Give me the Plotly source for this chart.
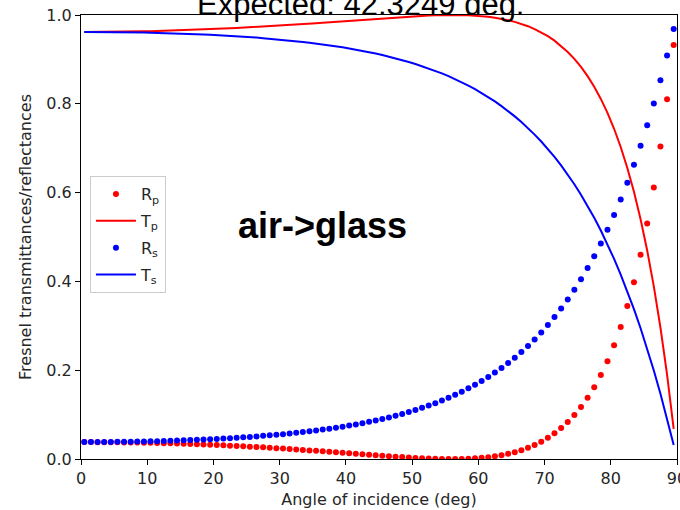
import plotly.graph_objects as go

# Angles of incidence (deg)
angles = [0.5, 1.5, 2.5, 3.5, 4.5, 5.5, 6.5, 7.5, 8.5, 9.5,
          10.5, 11.5, 12.5, 13.5, 14.5, 15.5, 16.5, 17.5, 18.5, 19.5,
          20.5, 21.5, 22.5, 23.5, 24.5, 25.5, 26.5, 27.5, 28.5, 29.5,
          30.5, 31.5, 32.5, 33.5, 34.5, 35.5, 36.5, 37.5, 38.5, 39.5,
          40.5, 41.5, 42.5, 43.5, 44.5, 45.5, 46.5, 47.5, 48.5, 49.5,
          50.5, 51.5, 52.5, 53.5, 54.5, 55.5, 56.5, 57.5, 58.5, 59.5,
          60.5, 61.5, 62.5, 63.5, 64.5, 65.5, 66.5, 67.5, 68.5, 69.5,
          70.5, 71.5, 72.5, 73.5, 74.5, 75.5, 76.5, 77.5, 78.5, 79.5,
          80.5, 81.5, 82.5, 83.5, 84.5, 85.5, 86.5, 87.5, 88.5, 89.5]

R_p = [0.0381, 0.0381, 0.0380, 0.0379, 0.0378, 0.0376, 0.0374, 0.0372, 0.0370, 0.0367,
       0.0364, 0.0360, 0.0356, 0.0352, 0.0348, 0.0343, 0.0338, 0.0333, 0.0327, 0.0321,
       0.0315, 0.0308, 0.0301, 0.0294, 0.0286, 0.0278, 0.0270, 0.0262, 0.0253, 0.0244,
       0.0234, 0.0225, 0.0215, 0.0205, 0.0194, 0.0184, 0.0173, 0.0162, 0.0151, 0.0140,
       0.0129, 0.0117, 0.0106, 0.0095, 0.0084, 0.0073, 0.0062, 0.0052, 0.0043, 0.0034,
       0.0025, 0.0018, 0.0011, 0.0006, 0.0002, 0.0000, 0.0000, 0.0002, 0.0007, 0.0015,
       0.0026, 0.0041, 0.0061, 0.0086, 0.0117, 0.0154, 0.0199, 0.0252, 0.0316, 0.0390,
       0.0477, 0.0578, 0.0696, 0.0832, 0.0989, 0.1169, 0.1377, 0.1616, 0.1890, 0.2203,
       0.2562, 0.2973, 0.3444, 0.3983, 0.4599, 0.5304, 0.6113, 0.7039, 0.8102, 0.9323]

T_p = [0.9619, 0.9619, 0.9620, 0.9621, 0.9622, 0.9624, 0.9626, 0.9628, 0.9630, 0.9633,
       0.9636, 0.9640, 0.9644, 0.9648, 0.9652, 0.9657, 0.9662, 0.9667, 0.9673, 0.9679,
       0.9685, 0.9692, 0.9699, 0.9706, 0.9714, 0.9722, 0.9730, 0.9738, 0.9747, 0.9756,
       0.9766, 0.9775, 0.9785, 0.9795, 0.9806, 0.9816, 0.9827, 0.9838, 0.9849, 0.9860,
       0.9871, 0.9883, 0.9894, 0.9905, 0.9916, 0.9927, 0.9938, 0.9948, 0.9957, 0.9966,
       0.9975, 0.9982, 0.9989, 0.9994, 0.9998, 1.0000, 1.0000, 0.9998, 0.9993, 0.9985,
       0.9974, 0.9959, 0.9939, 0.9914, 0.9883, 0.9846, 0.9801, 0.9748, 0.9684, 0.9610,
       0.9523, 0.9422, 0.9304, 0.9168, 0.9011, 0.8831, 0.8623, 0.8384, 0.8110, 0.7797,
       0.7438, 0.7027, 0.6556, 0.6017, 0.5401, 0.4696, 0.3887, 0.2961, 0.1898, 0.0677]

R_s = [0.0381, 0.0381, 0.0382, 0.0383, 0.0384, 0.0386, 0.0388, 0.0390, 0.0393, 0.0395,
       0.0399, 0.0402, 0.0406, 0.0411, 0.0415, 0.0420, 0.0426, 0.0432, 0.0439, 0.0446,
       0.0453, 0.0461, 0.0469, 0.0478, 0.0488, 0.0498, 0.0509, 0.0521, 0.0533, 0.0546,
       0.0560, 0.0574, 0.0590, 0.0606, 0.0624, 0.0642, 0.0662, 0.0683, 0.0705, 0.0728,
       0.0753, 0.0779, 0.0807, 0.0837, 0.0868, 0.0902, 0.0937, 0.0975, 0.1015, 0.1058,
       0.1103, 0.1152, 0.1203, 0.1258, 0.1316, 0.1378, 0.1445, 0.1515, 0.1591, 0.1671,
       0.1757, 0.1849, 0.1947, 0.2052, 0.2163, 0.2283, 0.2411, 0.2547, 0.2694, 0.2850,
       0.3017, 0.3196, 0.3388, 0.3593, 0.3812, 0.4047, 0.4299, 0.4568, 0.4855, 0.5163,
       0.5493, 0.5845, 0.6222, 0.6625, 0.7055, 0.7515, 0.8007, 0.8531, 0.9090, 0.9687]

T_s = [0.9619, 0.9619, 0.9618, 0.9617, 0.9616, 0.9614, 0.9612, 0.9610, 0.9607, 0.9605,
       0.9601, 0.9598, 0.9594, 0.9589, 0.9585, 0.9580, 0.9574, 0.9568, 0.9561, 0.9554,
       0.9547, 0.9539, 0.9531, 0.9522, 0.9512, 0.9502, 0.9491, 0.9479, 0.9467, 0.9454,
       0.9440, 0.9426, 0.9410, 0.9394, 0.9376, 0.9358, 0.9338, 0.9317, 0.9295, 0.9272,
       0.9247, 0.9221, 0.9193, 0.9163, 0.9132, 0.9098, 0.9063, 0.9025, 0.8985, 0.8942,
       0.8897, 0.8848, 0.8797, 0.8742, 0.8684, 0.8622, 0.8555, 0.8485, 0.8409, 0.8329,
       0.8243, 0.8151, 0.8053, 0.7948, 0.7837, 0.7717, 0.7589, 0.7453, 0.7306, 0.7150,
       0.6983, 0.6804, 0.6612, 0.6407, 0.6188, 0.5953, 0.5701, 0.5432, 0.5145, 0.4837,
       0.4507, 0.4155, 0.3778, 0.3375, 0.2945, 0.2485, 0.1993, 0.1469, 0.0910, 0.0313]

x_ticks = [0, 10, 20, 30, 40, 50, 60, 70, 80, 90]
y_ticks = [0.0, 0.2, 0.4, 0.6, 0.8, 1.0]
y_tick_labels = ["0.0", "0.2", "0.4", "0.6", "0.8", "1.0"]

title_text = "Expected: 42.3249 deg."
inset_text = "air-&gt;glass"

RED = "#ff0000"
BLUE = "#0000ff"
TICKFONT = dict(family="DejaVu Sans", size=16, color="#262626")

fig = go.Figure()
fig.add_trace(go.Scatter(x=angles, y=R_p, mode="markers", name="R<sub>p</sub>",
                         legendgroup="a", marker=dict(color=RED, size=6)))
fig.add_trace(go.Scatter(x=angles, y=T_p, mode="lines", name="T<sub>p</sub>",
                         legendgroup="b", line=dict(color=RED, width=2)))
fig.add_trace(go.Scatter(x=angles, y=R_s, mode="markers", name="R<sub>s</sub>",
                         legendgroup="c", marker=dict(color=BLUE, size=6)))
fig.add_trace(go.Scatter(x=angles, y=T_s, mode="lines", name="T<sub>s</sub>",
                         legendgroup="d", line=dict(color=BLUE, width=2)))

axis_common = dict(showline=True, linecolor="black", linewidth=1, mirror=True,
                   ticks="outside", ticklen=5, tickcolor="black", tickwidth=1,
                   showgrid=False, zeroline=False, tickfont=TICKFONT)

fig.update_xaxes(range=[0, 90], tickvals=x_ticks, ticklabeloverflow="allow",
                 title=dict(text="Angle of incidence (deg)",
                            font=dict(family="DejaVu Sans", size=16, color="#262626"),
                            standoff=6),
                 **axis_common)
fig.update_yaxes(range=[0, 1], tickvals=y_ticks, ticktext=y_tick_labels,
                 title=dict(text="Fresnel transmittances/reflectances",
                            font=dict(family="DejaVu Sans", size=16, color="#262626"),
                            standoff=10),
                 **axis_common)

fig.add_annotation(text=title_text, xref="paper", yref="paper",
                   x=(360 - 81) / 596, y=1.023, xanchor="center", yanchor="middle",
                   showarrow=False,
                   font=dict(family="Liberation Sans", size=31, color="black"))
fig.add_annotation(text="<b>" + inset_text + "</b>", x=36.4, y=0.525,
                   xanchor="center", yanchor="middle", showarrow=False,
                   font=dict(family="Liberation Sans", size=36, color="black"))

fig.update_layout(
    width=680, height=510,
    margin=dict(l=81, r=3, t=15, b=51, autoexpand=False),
    plot_bgcolor="white", paper_bgcolor="white",
    showlegend=True,
    legend=dict(x=0.015, y=0.637, xanchor="left", yanchor="top",
                bgcolor="white", bordercolor="#cccccc", borderwidth=1,
                font=dict(family="DejaVu Sans", size=16, color="#262626"),
                itemwidth=40, tracegroupgap=3),
)

fig.write_html("out.html", config={"displayModeBar": False},
               post_script="document.body.style.margin='0';document.body.style.overflow='hidden';")
